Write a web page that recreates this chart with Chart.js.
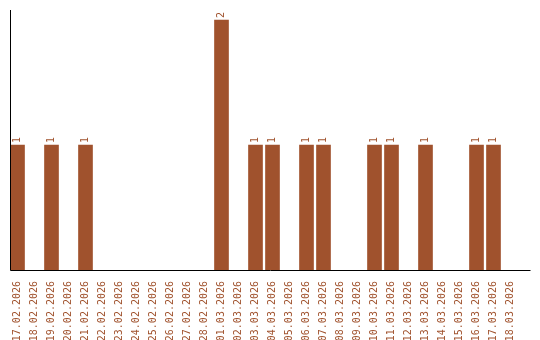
<!DOCTYPE html>
<html>
<head>
<meta charset="utf-8">
<script src="https://cdn.jsdelivr.net/npm/chart.js@4"></script>
<style>
  html, body { margin: 0; padding: 0; background: #fff; }
  #barChart { display: block; }
</style>
</head>
<body>
<canvas id="barChart" width="540" height="340"></canvas>
<script>
var labels = [
    '17.02.2026', '18.02.2026', '19.02.2026', '20.02.2026', '21.02.2026', '22.02.2026',
    '23.02.2026', '24.02.2026', '25.02.2026', '26.02.2026', '27.02.2026', '28.02.2026',
    '01.03.2026', '02.03.2026', '03.03.2026', '04.03.2026', '05.03.2026', '06.03.2026',
    '07.03.2026', '08.03.2026', '09.03.2026', '10.03.2026', '11.03.2026', '12.03.2026',
    '13.03.2026', '14.03.2026', '15.03.2026', '16.03.2026', '17.03.2026', '18.03.2026'
];
var counts = [
    1, 0, 1, 0, 1, 0,
    0, 0, 0, 0, 0, 0,
    2, 0, 1, 1, 0, 1,
    1, 0, 0, 1, 1, 0,
    1, 0, 0, 1, 1, 0
];
var yMax = 2.08;

var barColor = '#a0522d';
var textColor = '#a0522d';
var monoFont = { family: '"DejaVu Sans Mono", monospace', size: 10 };

// axis lines + rotated value labels over the bars
var extras = {
    id: 'extras',
    afterDatasetsDraw: function (chart) {
        var ctx = chart.ctx;
        var area = chart.chartArea;
        ctx.save();
        ctx.strokeStyle = '#000';
        ctx.lineWidth = 1;
        ctx.beginPath();
        ctx.moveTo(10.5, area.top);
        ctx.lineTo(10.5, area.bottom + 0.5);
        ctx.lineTo(chart.width - 9.5, area.bottom + 0.5);
        ctx.stroke();

        ctx.fillStyle = textColor;
        ctx.font = monoFont.size + 'px ' + monoFont.family;
        ctx.textAlign = 'left';
        ctx.textBaseline = 'middle';
        chart.getDatasetMeta(0).data.forEach(function (bar, i) {
            if (!counts[i]) return;
            ctx.save();
            ctx.translate(bar.x, bar.y - 2);
            ctx.rotate(-Math.PI / 2);
            ctx.fillText(String(counts[i]), 0, 0);
            ctx.restore();
        });
        ctx.restore();
    }
};

var ctx = document.getElementById('barChart');
var myBarChart = new Chart(ctx, {
    type: 'bar',
    data: {
        labels: labels,
        datasets: [{
            // empty days get no bar at all
            data: counts.map(function (v) { return v > 0 ? v : null; }),
            backgroundColor: barColor,
            borderWidth: 0,
            barThickness: 14
        }]
    },
    options: {
        responsive: false,
        animation: false,
        layout: {
            padding: { left: 9, right: 21, top: 10, bottom: 0 }
        },
        plugins: {
            legend: { display: false },
            tooltip: { enabled: false }
        },
        scales: {
            x: {
                grid: { display: false },
                border: { display: false },
                ticks: {
                    color: textColor,
                    font: monoFont,
                    autoSkip: false,
                    minRotation: 90,
                    maxRotation: 90,
                    padding: 3
                },
                afterFit: function (scale) {
                    scale.height = 70;
                }
            },
            y: {
                display: false,
                min: 0,
                max: yMax
            }
        }
    },
    plugins: [extras]
});
</script>
</body>
</html>
